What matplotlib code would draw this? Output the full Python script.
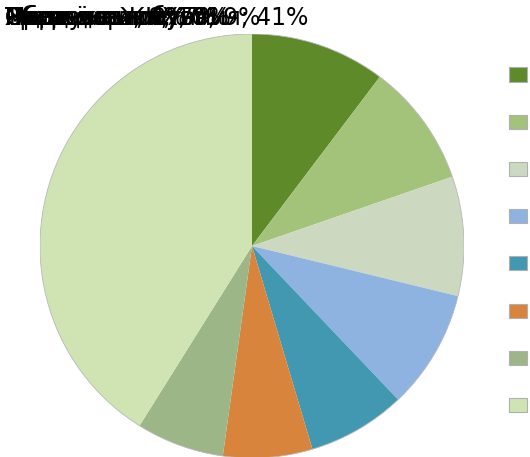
import matplotlib
matplotlib.use("Agg")
import matplotlib.pyplot as plt

categories = [
    "Сбережения",
    "Одежда и обувь",
    "Транспорт",
    "Жильё и ЖКХ",
    "Медицина",
    "Образование",
    "Развлечения",
    "Продукты питания",
]
values = [10.3, 9.4, 9.1, 9.1, 7.5, 6.8, 6.7, 41.1]
colors = ["#5e8a2a", "#a3c37a", "#cdd8c0", "#8fb3e1",
          "#4298b0", "#d9843d", "#9cb688", "#cfe4b2"]
title = "Структура расходов семьи"

plt.rcParams['font.family'] = ['DejaVu Sans']

W, H = 530, 457
fig = plt.figure(figsize=(W / 100, H / 100), dpi=100)

cx, cy, r = 252, 246, 212
ax = fig.add_axes([(cx - r) / W, (H - cy - r) / H, 2 * r / W, 2 * r / H])
wedges, _ = ax.pie(values, colors=colors, startangle=90, counterclock=False,
                   radius=1.0,
                   wedgeprops=dict(edgecolor="none", linewidth=0))
circle = plt.Circle((0, 0), 1.0, fill=False, edgecolor="#b8b8b8", linewidth=0.6)
ax.add_patch(circle)
ax.set_xlim(-1, 1)
ax.set_ylim(-1, 1)
ax.set_aspect("equal")
ax.axis("off")

# overlapping slice labels, all drawn at the same spot (as in the reference)
total = sum(values)
for cat, v in zip(categories, values):
    fig.text(5 / W, 1 - 25 / H, f"{cat}; {round(v / total * 100)}%",
             fontsize=17, color="black", ha="left", va="baseline")

# title, mostly above the visible area (only descenders visible)
ttl = fig.text(330 / W, 1 + 5 / H, title, fontsize=18, fontweight="bold",
               color="#0e8a3e", ha="left", va="baseline")

leg = fig.legend(wedges, categories, loc="upper left",
                 bbox_to_anchor=(509 / W, 1 - 66 / H),
                 frameon=False, fontsize=12, handlelength=1.1,
                 handleheight=0.93, labelspacing=1.75, borderpad=0,
                 borderaxespad=0, handletextpad=0.8)
for h in leg.legend_handles:
    h.set_edgecolor("#b0b0b0")
    h.set_linewidth(0.8)

# fine-tune legend position by measuring the rendered result
fig.canvas.draw()
renderer = fig.canvas.get_renderer()
target_first, target_last = 74.5, 417  # square centres, px from top
for _ in range(3):
    fig.canvas.draw()
    e0 = leg.legend_handles[0].get_window_extent(renderer)
    e1 = leg.legend_handles[-1].get_window_extent(renderer)
    c0 = H - (e0.y0 + e0.y1) / 2
    c1 = H - (e1.y0 + e1.y1) / 2
    step = (c1 - c0) / 7
    want = (target_last - target_first) / 7
    fs_px = 12 * 100 / 72
    leg.labelspacing = leg.labelspacing + (want - step) / fs_px
    fig.canvas.draw()
    e0 = leg.legend_handles[0].get_window_extent(renderer)
    c0 = H - (e0.y0 + e0.y1) / 2
    by = leg.get_bbox_to_anchor().y0 / H
    leg.set_bbox_to_anchor((509 / W, by + (c0 - target_first) / H))

fig.savefig("out.png", dpi=100)
